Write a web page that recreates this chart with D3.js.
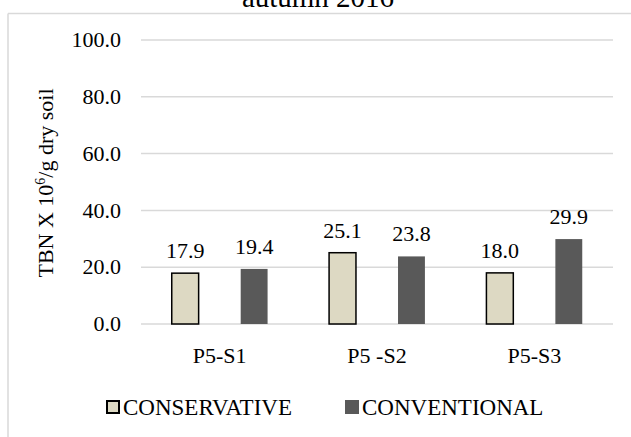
<!DOCTYPE html>
<html>
<head>
<meta charset="utf-8">
<script src="https://cdn.jsdelivr.net/npm/d3@7"></script>
<style>
  body { margin: 0; background: #fff; }
</style>
</head>
<body>
<div id="chart"></div>
<script>
// chart data
var sites = ["P5-S1", "P5 -S2", "P5-S3"];
var seriesNames = ["CONSERVATIVE", "CONVENTIONAL"];
var conservative = [17.9, 25.1, 18.0];
var conventional = [19.4, 23.8, 29.9];
var yTicks = [0, 20, 40, 60, 80, 100];

const width = 631, height = 437;
const serif = "Liberation Serif";
const colors = {"CONSERVATIVE": "#ddd9c3", "CONVENTIONAL": "#595959"};

var svg = d3.select("#chart").append("svg")
    .attr("width", width)
    .attr("height", height)
    .attr("font-family", serif);

// outer frame (only top and left are inside the picture)
svg.append("line").attr("x1", 8).attr("x2", width).attr("y1", 13.5).attr("y2", 13.5)
    .attr("stroke", "#d9d9d9").attr("stroke-width", 1.5);
svg.append("line").attr("x1", 8).attr("x2", 8).attr("y1", 13.5).attr("y2", height)
    .attr("stroke", "#d9d9d9").attr("stroke-width", 1.5);

// title, cut at the top
svg.append("text")
    .attr("x", 318).attr("y", 7)
    .attr("text-anchor", "middle")
    .attr("font-family", serif)
    .attr("font-size", 29)
    .text("autumn 2016");

var x = d3.scaleBand().domain(sites).range([141, 613]);
var xInner = d3.scaleBand().domain(seriesNames)
    .range([0, x.bandwidth()])
    .paddingInner(0.61)
    .paddingOuter(0.446);
var y = d3.scaleLinear().domain([0, 100]).range([324, 40]);

// gridlines
svg.append("g").selectAll("line")
    .data(yTicks).enter().append("line")
    .attr("x1", 141).attr("x2", 613)
    .attr("y1", d => y(d)).attr("y2", d => y(d))
    .attr("stroke", "#d9d9d9").attr("stroke-width", 1.5);

// y tick labels
svg.append("g").selectAll("text")
    .data(yTicks).enter().append("text")
    .attr("x", 121)
    .attr("y", d => y(d))
    .attr("dy", "0.33em")
    .attr("text-anchor", "end")
    .attr("font-family", serif)
    .attr("font-size", 22)
    .text(d => d3.format(".1f")(d));

// y axis title
var yTitle = svg.append("text")
    .attr("transform", "translate(53," + 183 + ") rotate(-90)")
    .attr("text-anchor", "middle")
    .attr("font-family", serif)
    .attr("font-size", 22);
yTitle.append("tspan").text("TBN X 10");
yTitle.append("tspan").attr("dy", -8).attr("font-size", 14).text("6");
yTitle.append("tspan").attr("dy", 8).text("/g dry soil");

// bars
var rows = sites.map((s, i) => ({site: s, values: [
    {name: "CONSERVATIVE", value: conservative[i]},
    {name: "CONVENTIONAL", value: conventional[i]}
]}));

var groups = svg.append("g").selectAll("g")
    .data(rows).enter().append("g")
    .attr("transform", d => "translate(" + x(d.site) + ",0)");

groups.selectAll("rect")
    .data(d => d.values).enter().append("rect")
    .attr("x", d => xInner(d.name))
    .attr("y", d => y(d.value))
    .attr("width", xInner.bandwidth())
    .attr("height", d => y(0) - y(d.value))
    .attr("fill", d => colors[d.name])
    .attr("stroke", d => d.name === "CONSERVATIVE" ? "#000" : "none")
    .attr("stroke-width", 1.5);

// value labels
groups.selectAll("text")
    .data(d => d.values).enter().append("text")
    .attr("x", d => xInner(d.name) + xInner.bandwidth() / 2)
    .attr("y", d => y(d.value) - 15)
    .attr("text-anchor", "middle")
    .attr("font-family", serif)
    .attr("font-size", 22)
    .text(d => d3.format(".1f")(d.value));

// category labels
svg.append("g").selectAll("text")
    .data(sites).enter().append("text")
    .attr("x", d => x(d) + x.bandwidth() / 2)
    .attr("y", 363)
    .attr("text-anchor", "middle")
    .attr("font-family", serif)
    .attr("font-size", 22)
    .text(d => d);

// legend
var legendX = [106, 345];
var legend = svg.append("g").selectAll("g")
    .data(seriesNames).enter().append("g")
    .attr("transform", (d, i) => "translate(" + legendX[i] + ",400)");
legend.append("rect")
    .attr("x", d => d === "CONSERVATIVE" ? 1 : 0)
    .attr("y", d => d === "CONSERVATIVE" ? 1 : 0)
    .attr("width", d => d === "CONSERVATIVE" ? 12 : 14)
    .attr("height", d => d === "CONSERVATIVE" ? 12 : 14)
    .attr("fill", d => colors[d])
    .attr("stroke", d => d === "CONSERVATIVE" ? "#000" : "none")
    .attr("stroke-width", 2);
legend.append("text")
    .attr("x", 17)
    .attr("y", 15)
    .attr("font-family", serif)
    .attr("font-size", 23)
    .text(d => d);
</script>
</body>
</html>
